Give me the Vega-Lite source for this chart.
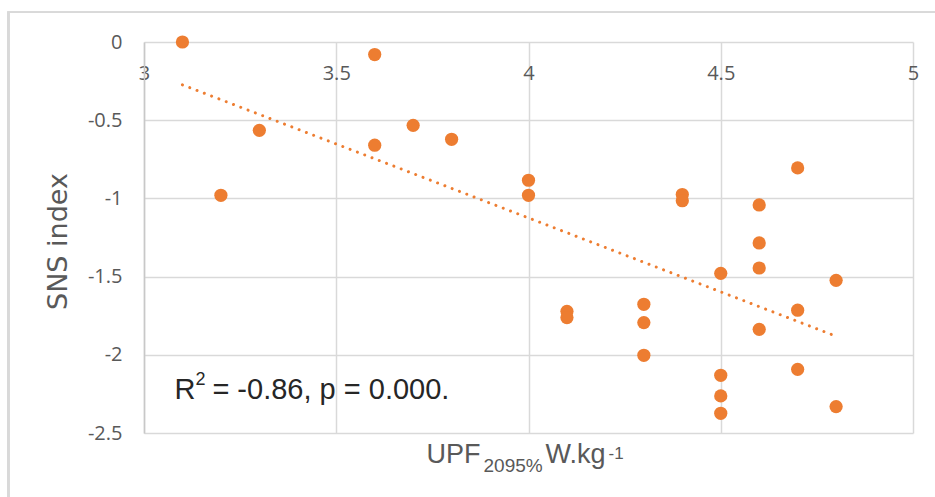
{
  "$schema": "https://vega.github.io/schema/vega-lite/v6.json",
  "autosize": {"type": "none"},
  "padding": {"left": 144, "top": 42, "right": 22, "bottom": 64},
  "width": 769,
  "height": 391,
  "background": "white",
  "config": {"view": {"stroke": null}},
  "data": {"values": [
    {"upf": 3.1, "sns": 0.0},
    {"upf": 3.2, "sns": -0.98},
    {"upf": 3.3, "sns": -0.565},
    {"upf": 3.6, "sns": -0.08},
    {"upf": 3.6, "sns": -0.66},
    {"upf": 3.7, "sns": -0.533},
    {"upf": 3.8, "sns": -0.622},
    {"upf": 4.0, "sns": -0.884},
    {"upf": 4.0, "sns": -0.98},
    {"upf": 4.1, "sns": -1.722},
    {"upf": 4.1, "sns": -1.762},
    {"upf": 4.3, "sns": -1.677},
    {"upf": 4.3, "sns": -1.794},
    {"upf": 4.3, "sns": -2.003},
    {"upf": 4.4, "sns": -0.975},
    {"upf": 4.4, "sns": -1.015},
    {"upf": 4.5, "sns": -1.479},
    {"upf": 4.5, "sns": -2.131},
    {"upf": 4.5, "sns": -2.263},
    {"upf": 4.5, "sns": -2.374},
    {"upf": 4.6, "sns": -1.042},
    {"upf": 4.6, "sns": -1.285},
    {"upf": 4.6, "sns": -1.445},
    {"upf": 4.6, "sns": -1.837},
    {"upf": 4.7, "sns": -0.805},
    {"upf": 4.7, "sns": -1.715},
    {"upf": 4.7, "sns": -2.093},
    {"upf": 4.8, "sns": -1.524},
    {"upf": 4.8, "sns": -2.331}
  ]},
  "datasets": {
    "note": [{"nx": 3.079, "ny": -2.28}],
    "xtitle": [{"tx": 4, "ty": -2.5}]
  },
  "encoding": {
    "x": {
      "field": "upf", "type": "quantitative",
      "scale": {"domain": [3, 5], "nice": false, "zero": false},
      "axis": {
        "orient": "top", "title": null, "values": [3, 3.5, 4, 4.5, 5],
        "labelExpr": "datum.value + ''",
        "ticks": false, "domain": false, "labelFlush": false,
        "labelPadding": -21, "labelBaseline": "top",
        "labelFont": "Open Sans", "labelFontSize": 20, "labelColor": "#595959",
        "grid": true, "gridColor": "#d9d9d9", "gridWidth": 1.5
      }
    },
    "y": {
      "field": "sns", "type": "quantitative",
      "scale": {"domain": [-2.5, 0], "nice": false, "zero": false},
      "axis": {
        "values": [0, -0.5, -1, -1.5, -2, -2.5],
        "labelExpr": "datum.value + ''",
        "ticks": false, "domain": true, "domainColor": "#c8c8c8", "domainWidth": 1.5,
        "labelPadding": 22,
        "labelFont": "Open Sans", "labelFontSize": 20, "labelColor": "#595959",
        "grid": true, "gridColor": "#d9d9d9", "gridWidth": 1.5,
        "title": "SNS index", "titleFont": "DejaVu Sans", "titleFontSize": 27,
        "titleFontWeight": "normal", "titleColor": "#595959",
        "titleX": -72, "titleY": 199, "titleAngle": 270, "titleBaseline": "bottom", "titleAlign": "center"
      }
    }
  },
  "layer": [
    {
      "mark": {"type": "rect", "filled": false, "stroke": "#d9d9d9", "strokeWidth": 1.5, "clip": false},
      "encoding": {
        "x": {"datum": 2.6475},
        "x2": {"datum": 5.2},
        "y": {"datum": 0.19},
        "y2": {"datum": -3.1}
      }
    },
    {
      "mark": {"type": "point", "filled": true, "shape": "circle", "size": 175, "fill": "#ED7D31", "opacity": 1}
    },
    {
      "transform": [{"regression": "sns", "on": "upf"}],
      "mark": {"type": "line", "stroke": "#ED7D31", "strokeWidth": 3, "strokeDash": [0.01, 7.8], "strokeCap": "round"}
    },
    {
      "data": {"name": "note"},
      "encoding": {
        "x": {"field": "nx", "type": "quantitative"},
        "y": {"field": "ny", "type": "quantitative"}
      },
      "layer": [
        {"mark": {"type": "text", "text": "R", "align": "left", "baseline": "alphabetic", "font": "Arial", "fontSize": 29, "fontWeight": 400, "fill": "#262626", "strokeOpacity": 0, "strokeWidth": 0}},
        {"mark": {"type": "text", "text": "2", "align": "left", "baseline": "alphabetic", "font": "Arial", "fontSize": 18, "fontWeight": 400, "fill": "#262626", "strokeOpacity": 0, "strokeWidth": 0, "dx": 21, "dy": -14}},
        {"mark": {"type": "text", "text": "= -0.86, p = 0.000.", "align": "left", "baseline": "alphabetic", "font": "Arial", "fontSize": 29, "fontWeight": 400, "fill": "#262626", "strokeOpacity": 0, "strokeWidth": 0, "dx": 38}}
      ]
    },
    {
      "data": {"name": "xtitle"},
      "encoding": {
        "x": {"field": "tx", "type": "quantitative"},
        "y": {"field": "ty", "type": "quantitative"}
      },
      "layer": [
        {"mark": {"type": "text", "text": "UPF", "align": "left", "baseline": "alphabetic", "font": "Arial", "fontSize": 27, "fontWeight": 400, "fill": "#595959", "strokeOpacity": 0, "strokeWidth": 0, "dx": -102, "dy": 30}},
        {"mark": {"type": "text", "text": "2095%", "align": "left", "baseline": "alphabetic", "font": "Arial", "fontSize": 19, "fontWeight": 400, "fill": "#595959", "strokeOpacity": 0, "strokeWidth": 0, "dx": -45, "dy": 39}},
        {"mark": {"type": "text", "text": "W.kg", "align": "left", "baseline": "alphabetic", "font": "Arial", "fontSize": 27, "fontWeight": 400, "fill": "#595959", "strokeOpacity": 0, "strokeWidth": 0, "dx": 17, "dy": 30}},
        {"mark": {"type": "text", "text": "-1", "align": "left", "baseline": "alphabetic", "font": "Arial", "fontSize": 17, "fontWeight": 400, "fill": "#595959", "strokeOpacity": 0, "strokeWidth": 0, "dx": 80, "dy": 26}}
      ]
    }
  ]
}
